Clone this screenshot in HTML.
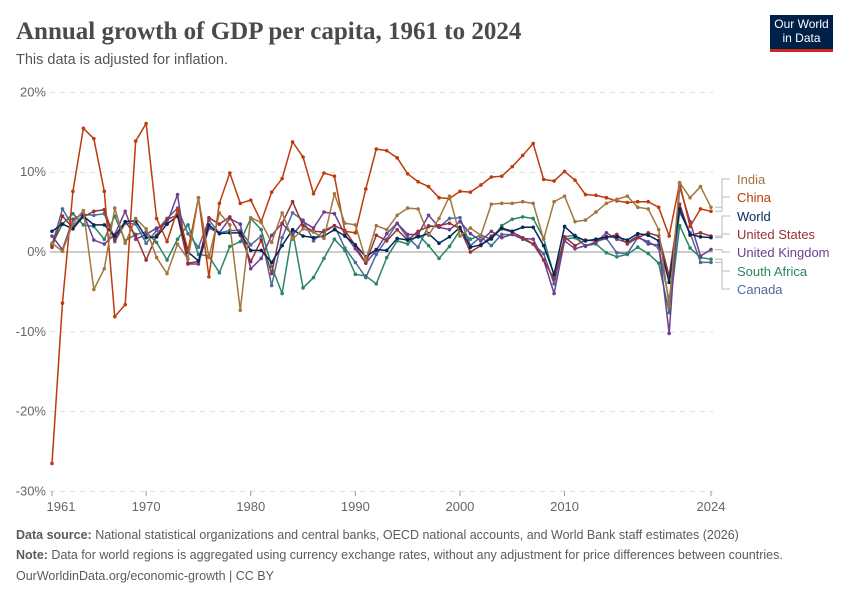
<!DOCTYPE html>
<html><head><meta charset="utf-8"><style>
body{margin:0;background:#fff;font-family:"Liberation Sans",sans-serif}
#wrap{position:relative;width:850px;height:600px;overflow:hidden}
.t{position:absolute;margin:0}
</style></head><body>
<div id="wrap">
<h1 class="t" style="left:16px;top:18px;font-family:'Liberation Serif',serif;font-size:25px;font-weight:bold;color:#4a4a4a">Annual growth of GDP per capita, 1961 to 2024</h1>
<div class="t" style="left:16px;top:52px;font-size:14.5px;color:#555">This data is adjusted for inflation.</div>
<div class="t" style="left:770px;top:15px;width:63px;height:37px;background:#002147;color:#fff;font-size:12px;line-height:14px;text-align:center;padding-top:2px;box-sizing:border-box;border-bottom:3px solid #ce261e">Our World<br>in Data</div>
<svg id="chart" width="850" height="600" style="position:absolute;left:0;top:0" font-family="Liberation Sans, sans-serif"></svg>
<div class="t" style="left:16px;top:528px;font-size:12.5px;color:#5b5b5b"><b>Data source:</b> National statistical organizations and central banks, OECD national accounts, and World Bank staff estimates (2026)</div>
<div class="t" style="left:16px;top:548px;font-size:12.5px;color:#5b5b5b"><b>Note:</b> Data for world regions is aggregated using currency exchange rates, without any adjustment for price differences between countries.</div>
<div class="t" style="left:16px;top:569px;font-size:12.5px;color:#5b5b5b">OurWorldinData.org/economic-growth | CC BY</div>
</div>
<script>
const years=[];for(let y=1961;y<=2024;y++)years.push(y);
const yTicks=[20,10,0,-10,-20,-30];
const xTicks=[1961,1970,1980,1990,2000,2010,2024];
const india=[1.1,0.1,3.6,5.2,-4.7,-2.1,5.5,1.1,4.2,2.9,-0.7,-2.7,1.0,-0.9,6.8,-0.7,4.9,3.4,-7.3,4.3,3.7,1.2,4.9,1.6,2.9,2.5,1.7,7.3,3.6,3.4,-1.0,3.3,2.8,4.6,5.5,5.4,2.1,4.2,7.0,2.0,3.0,2.1,6.0,6.1,6.1,6.3,6.1,1.6,6.3,7.0,3.8,4.0,5.0,6.1,6.6,7.0,5.6,5.4,2.8,-6.8,8.7,6.8,8.2,5.6];
const china=[-26.5,-6.4,7.6,15.5,14.2,7.6,-8.1,-6.6,13.9,16.1,4.2,1.3,5.3,0.2,6.8,-3.1,6.1,9.9,6.1,6.5,3.8,7.5,9.2,13.8,11.9,7.3,9.9,9.5,2.6,2.4,7.9,12.9,12.7,11.8,9.8,8.8,8.2,6.8,6.7,7.6,7.5,8.4,9.4,9.5,10.7,12.1,13.6,9.1,8.9,10.1,9.0,7.2,7.1,6.8,6.4,6.2,6.3,6.3,5.6,2.0,8.6,3.2,5.4,5.1];
const world=[2.6,3.5,2.9,4.5,3.4,3.4,2.0,3.8,3.9,1.8,1.9,3.5,4.5,0.0,-1.1,3.4,2.3,2.4,2.4,0.2,0.2,-1.3,0.8,2.8,2.0,1.8,2.0,2.8,2.0,0.9,-0.6,0.3,0.2,1.7,1.5,1.9,2.3,1.1,1.9,3.1,0.6,0.9,1.7,3.0,2.6,3.1,3.1,0.8,-2.8,3.2,2.0,1.4,1.6,1.9,1.9,1.5,2.3,2.1,1.4,-3.8,5.4,2.2,1.9,1.8];
const us=[0.6,4.5,3.0,4.4,5.1,5.3,1.5,3.8,2.1,-1.0,2.1,4.1,4.6,-1.4,-1.2,4.3,3.5,4.4,2.1,-1.2,1.5,-2.7,3.6,6.3,3.3,2.6,2.5,3.3,2.7,0.8,-1.4,2.1,1.4,2.8,1.5,2.6,3.2,3.3,3.6,2.9,0.0,0.8,2.0,2.9,2.5,1.8,1.0,-1.0,-3.4,1.9,0.8,1.5,1.4,1.8,2.2,1.0,1.8,2.4,2.0,-3.0,6.0,2.1,2.4,2.0];
const uk=[2.0,0.3,4.1,4.8,1.5,1.0,2.2,5.1,1.6,2.2,3.0,3.6,7.2,-1.5,-1.5,3.0,2.4,4.2,3.5,-2.1,-0.8,2.1,3.6,2.1,3.8,3.0,5.0,4.8,2.2,0.4,-1.4,0.2,2.3,3.6,2.2,2.2,4.6,3.1,2.8,3.8,2.3,1.4,2.6,1.8,2.2,1.7,1.6,-1.0,-5.2,1.4,0.4,0.8,1.2,2.4,1.6,1.2,2.0,1.0,0.9,-10.2,8.2,3.8,-0.5,0.3];
const sa=[0.9,3.5,4.8,3.4,3.2,1.6,4.5,1.4,2.2,2.5,1.2,-1.0,1.6,3.4,-0.3,-0.5,-2.6,0.7,1.3,4.2,2.8,-1.8,-5.2,2.7,-4.5,-3.2,-0.8,1.6,0.2,-2.8,-3.0,-4.0,-0.7,1.4,1.0,2.2,0.8,-0.8,0.7,2.7,1.6,2.1,1.6,3.3,4.1,4.4,4.2,1.7,-3.0,1.6,1.8,0.8,1.0,-0.1,-0.6,-0.3,0.6,-0.2,-1.4,-7.6,3.3,0.5,-0.7,-0.9];
const canada=[0.9,5.4,3.2,4.7,4.6,4.8,1.3,3.6,3.5,1.1,2.7,4.2,5.5,2.3,0.6,4.0,2.4,2.7,2.7,0.9,2.0,-4.2,1.8,4.9,4.0,1.4,2.7,3.3,0.5,-1.3,-3.2,-0.3,1.6,3.6,1.8,0.6,3.3,3.1,4.2,4.3,0.8,1.9,0.8,2.2,2.2,1.6,1.0,-0.2,-4.0,1.9,2.1,0.7,1.3,1.7,-0.1,-0.2,1.8,1.3,0.5,-6.1,5.0,2.4,-1.3,-1.3];
const seriesNames=["India","China","World","United States","United Kingdom","South Africa","Canada"];
const seriesData=[india,china,world,us,uk,sa,canada];
const colors=["#a2773d","#be3b0c","#00295b","#9a3035","#6d3e91","#2b8465","#4c6a9c"];
const labelY=[183,201,220,238,256,275,293];
const svg=document.getElementById('chart');const NS="http://www.w3.org/2000/svg";
const X=y=>52+(y-1961)*(711-52)/63;
const Y=v=>252-v*7.98;
function mk(t,a){const e=document.createElementNS(NS,t);for(const k in a)e.setAttribute(k,a[k]);svg.appendChild(e);return e;}
yTicks.forEach(v=>{
 const l=mk('line',{x1:50,x2:713,y1:Y(v),y2:Y(v),stroke:v===0?'#bbb':'#ddd','stroke-width':v===0?1.5:1,'stroke-dasharray':v===0?'':'5,5'});
 
 
 const t=mk('text',{x:46,y:Y(v)+4,'text-anchor':'end','font-size':13,fill:'#666'});t.textContent=v+'%';
 
 
});
xTicks.forEach(yr=>{
 const l=mk('line',{x1:X(yr),x2:X(yr),y1:491,y2:496,stroke:'#999'});
 
 
 const t=mk('text',{x:X(yr)+(yr===1961?9:0),y:511,'text-anchor':'middle','font-size':13,fill:'#666'});t.textContent=yr;
 
 
});
for(let s=seriesData.length-1;s>=0;s--){
 const d=seriesData[s];
 const p=mk('polyline',{points:d.map((v,i)=>X(years[i])+','+Y(v)).join(' '),fill:'none',stroke:colors[s],'stroke-width':1.5,'stroke-linejoin':'round'});
 
 
 d.forEach((v,i)=>{const c=mk('circle',{cx:X(years[i]),cy:Y(v),r:1.8,fill:colors[s]});
  
  });
 const ly=Y(d[d.length-1]);
 const cn=mk('polyline',{points:`715,${ly} 722,${ly} 722,${labelY[s]-4} 730,${labelY[s]-4}`,fill:'none',stroke:'#bbb','stroke-width':1});
 
 
 const t=mk('text',{x:737,y:labelY[s]+1,'font-size':13,fill:colors[s]});t.textContent=seriesNames[s];
 
 
}
</script>
</body></html>
